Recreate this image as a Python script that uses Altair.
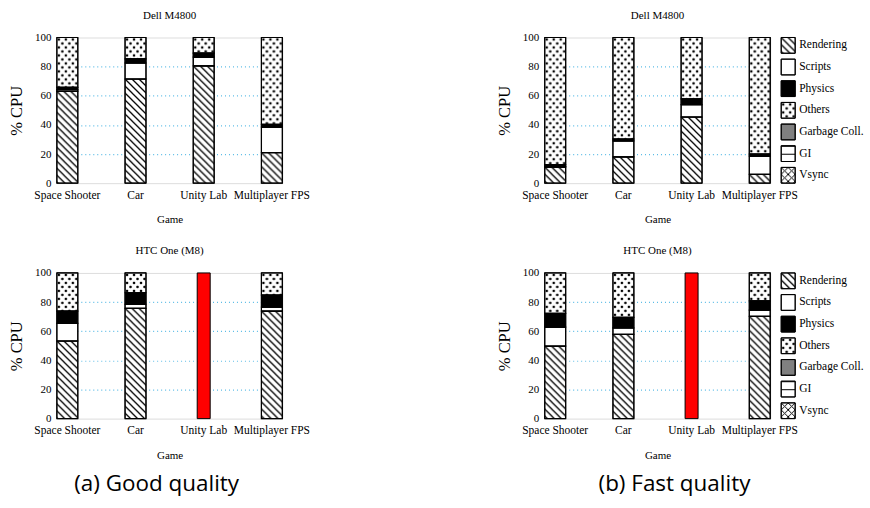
import base64
import altair as alt
import pandas as pd

games = ["Space Shooter", "Car", "Unity Lab", "Multiplayer FPS"]
categories = ["Rendering", "Scripts", "Physics", "Others", "Garbage Coll.", "GI", "Vsync"]
stack_order = ["Rendering", "Scripts", "Physics", "Others", "Failed"]

# (a) Good quality - Dell M4800
good_dell_rendering = [63.0, 71.5, 80.5, 21.0]
good_dell_scripts = [1.2, 11.0, 6.0, 17.5]
good_dell_physics = [1.6, 2.8, 2.8, 1.8]
good_dell_others = [34.2, 14.7, 10.7, 59.7]
good_dell_failed = [0, 0, 0, 0]
# (a) Good quality - HTC One (M8)
good_htc_rendering = [53.3, 75.7, 0, 73.8]
good_htc_scripts = [12.1, 2.8, 0, 2.8]
good_htc_physics = [8.4, 7.9, 0, 8.2]
good_htc_others = [26.2, 13.6, 0, 15.2]
good_htc_failed = [0, 0, 100, 0]
# (b) Fast quality - Dell M4800
fast_dell_rendering = [11.0, 18.0, 45.4, 6.0]
fast_dell_scripts = [0.5, 11.0, 8.5, 12.5]
fast_dell_physics = [1.3, 1.3, 3.9, 1.5]
fast_dell_others = [87.2, 69.7, 42.2, 80.0]
fast_dell_failed = [0, 0, 0, 0]
# (b) Fast quality - HTC One (M8)
fast_htc_rendering = [49.7, 57.8, 0, 70.2]
fast_htc_scripts = [13.1, 4.5, 0, 4.3]
fast_htc_physics = [9.4, 7.2, 0, 6.3]
fast_htc_others = [27.8, 30.5, 0, 19.2]
fast_htc_failed = [0, 0, 100, 0]

captions = ["(a) Good quality", "(b) Fast quality"]
devices = ["Dell M4800", "HTC One (M8)"]

panel_series = {
    "good_dell": [good_dell_rendering, good_dell_scripts, good_dell_physics, good_dell_others, good_dell_failed],
    "good_htc": [good_htc_rendering, good_htc_scripts, good_htc_physics, good_htc_others, good_htc_failed],
    "fast_dell": [fast_dell_rendering, fast_dell_scripts, fast_dell_physics, fast_dell_others, fast_dell_failed],
    "fast_htc": [fast_htc_rendering, fast_htc_scripts, fast_htc_physics, fast_htc_others, fast_htc_failed],
}

rows = []
for key, series in panel_series.items():
    for ci, (cat, vals) in enumerate(zip(stack_order, series)):
        for g, v in zip(games, vals):
            rows.append({"panel": key, "game": g, "category": cat, "value": v, "order": ci})
df = pd.DataFrame(rows)

SERIF = "Liberation Serif"
fill_domain = categories + ["Failed"]
fill_range = ["white", "white", "black", "white", "#808080", "white", "white", "#ff0000"]


def pattern_url(inner, w, h):
    svg = ("<svg xmlns='http://www.w3.org/2000/svg' width='100%' height='100%'>"
           f"<defs><pattern id='p' width='{w}' height='{h}' patternUnits='userSpaceOnUse'>{inner}</pattern></defs>"
           "<rect width='100%' height='100%' fill='url(#p)'/></svg>")
    return "data:image/svg+xml;base64," + base64.b64encode(svg.encode()).decode()


hatch = pattern_url("<path d='M0,0L7,7M-1,6L1,8M6,-1L8,1' stroke='black' stroke-width='1.3' fill='none'/>", 7, 7)
dots = pattern_url("<circle cx='2' cy='2' r='1.3' fill='black'/><circle cx='5.5' cy='6' r='1.3' fill='black'/>", 7, 8)
hlines = pattern_url("<path d='M0,0.5H8' stroke='black' stroke-width='1' fill='none'/>", 8, 8)
cross = pattern_url("<path d='M0,0L7,7M7,0L0,7' stroke='black' stroke-width='1' fill='none'/>", 7, 7)
pattern_df = pd.DataFrame({"category": ["Rendering", "Others", "GI", "Vsync"],
                           "url": [hatch, dots, hlines, cross]})

FILL = alt.Fill("category:N", scale=alt.Scale(domain=fill_domain, range=fill_range), legend=None)
W, H = 226, 146


def panel(key, title, caption=None, cap_x=0):
    X = alt.X("game:N", scale=alt.Scale(domain=games, paddingInner=0.693, paddingOuter=0),
              axis=alt.Axis(title="Game", labelAngle=0, labelFont=SERIF, labelFontSize=11.5,
                            labelColor="black", labelPadding=6, ticks=False, domain=False,
                            titleFont=SERIF, titleFontSize=11, titleFontWeight="normal",
                            titleColor="black", titlePadding=13))
    Y = alt.Y("y0:Q", scale=alt.Scale(domain=[0, 100], nice=False),
              axis=alt.Axis(values=[0, 20, 40, 60, 80, 100], title="% CPU", grid=True,
                            gridDash=[1, 3], gridWidth=1.2,
                            gridColor={"condition": {"test": "datum.value === 0 || datum.value === 100",
                                                     "value": "transparent"}, "value": "#5cbce6"},
                            ticks=False, domain=False, labelFont=SERIF, labelFontSize=11,
                            labelColor="black", labelPadding=6, titleFont=SERIF, titleFontSize=16.5,
                            titleFontWeight="normal", titleColor="black", titlePadding=10))
    Y2 = alt.Y2("y1:Q")
    base = (alt.Chart(df)
            .transform_filter(f"datum.panel === '{key}'")
            .transform_stack(stack="value", groupby=["game"], as_=["y0", "y1"],
                             sort=[alt.SortField("order", order="ascending")])
            .transform_filter("datum.value > 0"))
    segs = base.transform_filter("datum.category !== 'Failed'")
    fills = segs.mark_bar(stroke="black", strokeWidth=1).encode(x=X, y=Y, y2=Y2, fill=FILL)
    imgs = (segs.transform_lookup(lookup="category",
                                  from_=alt.LookupData(pattern_df, "category", ["url"]))
            .transform_filter("isValid(datum.url)")
            .mark_image(aspect=False)
            .encode(x=X, y=Y, y2=Y2, url="url:N"))
    strokes = segs.mark_bar(fillOpacity=0, stroke="black", strokeWidth=1.2).encode(x=X, y=Y, y2=Y2)
    failed = (base.transform_filter("datum.category === 'Failed'")
              .mark_bar(size=13, stroke="black", strokeWidth=1)
              .encode(x=X, y=Y, y2=Y2, fill=FILL))
    layers = [fills, imgs, strokes, failed]
    if caption is not None:
        cap = (alt.Chart(pd.DataFrame({"caption": [caption]}))
               .mark_text(font="Open Sans", fontSize=22.5, color="black", baseline="middle")
               .encode(text="caption:N", x=alt.value(cap_x), y=alt.value(212)))
        layers.append(cap)
    return alt.layer(*layers).properties(
        width=W, height=H,
        title=alt.TitleParams(title, font=SERIF, fontSize=11, fontWeight="normal",
                              color="black", offset=11, anchor="middle"))


def legend():
    Yl = alt.Y("category:N", scale=alt.Scale(domain=categories, paddingInner=0.2727, paddingOuter=0), axis=None)
    base = alt.Chart(pd.DataFrame({"category": categories}))
    rect = base.mark_rect(stroke="black", strokeWidth=1).encode(
        x=alt.value(0), x2=alt.value(14), y=Yl, fill=FILL)
    img = (base.transform_lookup(lookup="category", from_=alt.LookupData(pattern_df, "category", ["url"]))
           .transform_filter("isValid(datum.url)")
           .mark_image(aspect=False)
           .encode(x=alt.value(0), x2=alt.value(14), y=Yl, url="url:N"))
    rect2 = base.mark_rect(fillOpacity=0, stroke="black", strokeWidth=1).encode(
        x=alt.value(0), x2=alt.value(14), y=Yl)
    txt = base.mark_text(align="left", baseline="middle", font=SERIF, fontSize=11.5, color="black").encode(
        x=alt.value(18), y=Yl, text="category:N")
    return alt.layer(rect, img, rect2, txt).properties(
        width=14, height=H, view=alt.ViewBackground(stroke="transparent"))


def spacer():
    return (alt.Chart(pd.DataFrame({"s": [0]}))
            .mark_point(opacity=0)
            .encode(x=alt.value(0), y=alt.value(0))
            .properties(width=241, height=H, view=alt.ViewBackground(stroke="transparent")))


cells = [
    panel("good_dell", devices[0]), spacer(), panel("fast_dell", devices[0]), legend(),
    panel("good_htc", devices[1], captions[0], 100), spacer(),
    panel("fast_htc", devices[1], captions[1], 130), legend(),
]

chart = (alt.concat(*cells, columns=4, spacing={"row": 90, "column": 11}, bounds="flush")
         .properties(padding={"left": 8, "top": 8, "right": 5, "bottom": 5})
         .configure_view(stroke="black", strokeWidth=1)
         .configure(background="white"))

chart.save("out.html", embed_options={"renderer": "svg", "actions": False})
